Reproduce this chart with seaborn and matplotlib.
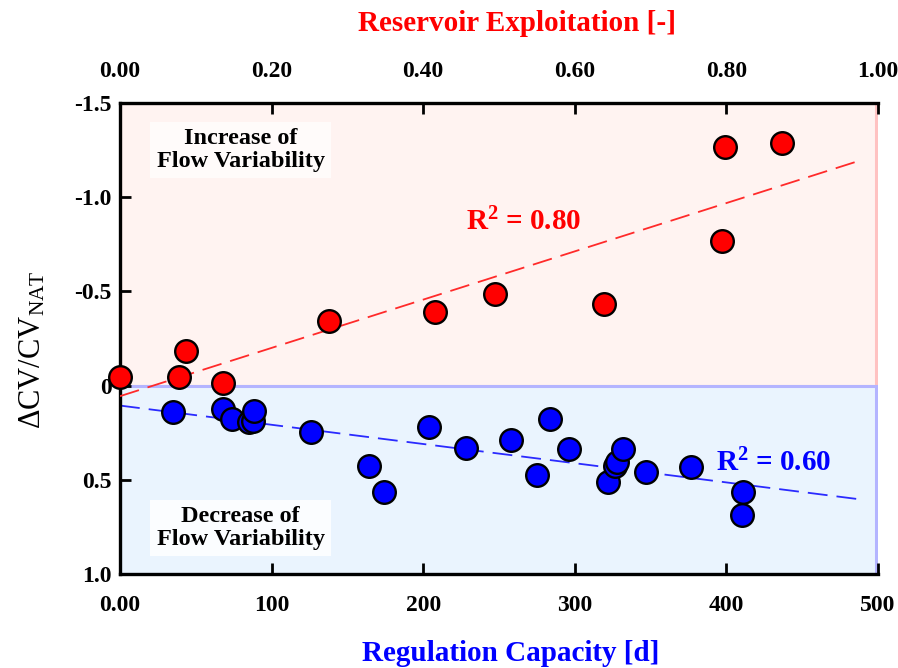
import numpy as np
import pandas as pd
import matplotlib
matplotlib.use("Agg")
import matplotlib.pyplot as plt
import seaborn as sns

# Reservoir exploitation (top axis) vs change in coefficient of variation
red_expl = [0.000, 0.078, 0.087, 0.136, 0.276, 0.416, 0.495, 0.639, 0.794, 0.798, 0.874]
red_dcv = [-0.047, -0.047, -0.184, -0.012, -0.345, -0.392, -0.485, -0.433, -0.768, -1.268, -1.286]

# Regulation capacity (bottom axis) vs change in coefficient of variation
blue_cap = [35.2, 67.7, 73.7, 85.3, 87.9, 88.4, 125.8, 164.4, 173.9, 203.6, 228.4, 257.7,
            274.9, 283.6, 296.4, 321.7, 326.5, 327.6, 332.0, 347.0, 376.8, 410.1, 411.1]
blue_dcv = [0.139, 0.124, 0.179, 0.192, 0.186, 0.133, 0.245, 0.425, 0.566, 0.218, 0.333, 0.290,
            0.475, 0.179, 0.335, 0.513, 0.427, 0.404, 0.335, 0.459, 0.434, 0.688, 0.563]

red_r2_label = "0.80"
blue_r2_label = "0.60"

bottom_ticks = [0, 100, 200, 300, 400, 500]
bottom_ticklabels = ["0.00", "100", "200", "300", "400", "500"]
top_ticks = [0.0, 0.2, 0.4, 0.6, 0.8, 1.0]
top_ticklabels = ["0.00", "0.20", "0.40", "0.60", "0.80", "1.00"]
y_ticks = [-1.5, -1.0, -0.5, 0.0, 0.5, 1.0]
y_ticklabels = ["-1.5", "-1.0", "-0.5", "0", "0.5", "1.0"]

sns.set_theme(style="white")
plt.rcParams["font.family"] = ["Liberation Serif", "DejaVu Serif"]
plt.rcParams["mathtext.fontset"] = "custom"
plt.rcParams["mathtext.rm"] = "Liberation Serif"
plt.rcParams["mathtext.bf"] = "Liberation Serif:bold"
plt.rcParams["mathtext.it"] = "Liberation Serif:italic"

RED = "#ff0000"
BLUE = "#0000ff"
TICK_FS = 17

fig = plt.figure(figsize=(8.98, 6.68), dpi=100)
ax = fig.add_axes([120 / 898, 1 - 574 / 668, 758 / 898, 471 / 668])
ax.set_xlim(0, 500)
ax.set_ylim(1.0, -1.5)

# shaded regions: increase (upper) and decrease (lower) of variability
ax.axhspan(-1.5, 0.0, xmin=0, xmax=0.997, facecolor="#fff3f1", edgecolor="#ffc2c2",
           linewidth=2.2, zorder=0)
ax.axhspan(0.0, 1.0, xmin=0, xmax=0.997, facecolor="#eaf4fe", edgecolor="#b4b4ff",
           linewidth=2.2, zorder=0)

blue_df = pd.DataFrame({"cap": blue_cap, "dcv": blue_dcv})
red_df = pd.DataFrame({"expl": red_expl, "dcv": red_dcv})

# linear fit for the regulation capacity series
bfit = np.polyfit(blue_df["cap"], blue_df["dcv"], 1)
bx = np.linspace(0, 491, 50)
sns.lineplot(x=bx, y=np.polyval(bfit, bx), ax=ax, color="#2a2aff", linewidth=1.3,
             linestyle=(0, (11, 5)), zorder=2)
sns.scatterplot(data=blue_df, x="cap", y="dcv", ax=ax, s=265, color=BLUE,
                edgecolor="black", linewidth=1.7, zorder=3, legend=False)

box_kw = dict(ha="center", va="center", fontsize=17.5, fontweight="bold",
              color="black", linespacing=1.12)
ax.text(79.5, -1.25, "Increase of\nFlow Variability",
        bbox=dict(boxstyle="square,pad=0.25", facecolor="#fffbfa", edgecolor="none"),
        **box_kw)
ax.text(79.5, 0.755, "Decrease of\nFlow Variability",
        bbox=dict(boxstyle="square,pad=0.25", facecolor="#fbfdff", edgecolor="none"),
        **box_kw)
ax.text(431, 0.41, r"R$^{\mathbf{2}}$ = " + blue_r2_label, ha="center", va="center",
        fontsize=21, fontweight="bold", color=BLUE)

ax.set_xticks(bottom_ticks)
ax.set_xticklabels(bottom_ticklabels)
ax.set_yticks(y_ticks)
ax.set_yticklabels(y_ticklabels)
ax.tick_params(axis="x", which="both", direction="in", length=8, width=2, pad=15,
               labelsize=TICK_FS, top=False, bottom=True, colors="black")
ax.tick_params(axis="y", which="both", direction="in", length=8, width=2, pad=6,
               labelsize=TICK_FS, left=True, right=False, colors="black")
for lab in ax.get_xticklabels() + ax.get_yticklabels():
    lab.set_fontweight("bold")

ax.set_xlabel("Regulation Capacity [d]", fontsize=21, fontweight="bold", color=BLUE)
ax.xaxis.set_label_coords(0.516, -0.14)
ax.set_ylabel(r"$\Delta$CV/CV$_{\mathrm{NAT}}$", fontsize=22, color="black")
ax.yaxis.set_label_coords(-0.096, 0.476)

for side in ["right", "top"]:
    ax.spines[side].set_visible(False)
for side in ["left", "bottom"]:
    ax.spines[side].set_color("black")
    ax.spines[side].set_linewidth(2.4)

# top axis: reservoir exploitation
ax2 = ax.twiny()
ax2.set_xlim(0, 1)
rfit = np.polyfit(red_df["expl"], red_df["dcv"], 1)
rx = np.linspace(0, 0.98, 50)
sns.lineplot(x=rx, y=np.polyval(rfit, rx), ax=ax2, color="#ff2a2a", linewidth=1.3,
             linestyle=(0, (11, 5)), zorder=2)
sns.scatterplot(data=red_df, x="expl", y="dcv", ax=ax2, s=265, color=RED,
                edgecolor="black", linewidth=1.7, zorder=3, legend=False, clip_on=False)
ax2.text(0.532, -0.868, r"R$^{\mathbf{2}}$ = " + red_r2_label, ha="center", va="center",
         fontsize=21, fontweight="bold", color=RED)

ax2.set_xticks(top_ticks)
ax2.set_xticklabels(top_ticklabels)
ax2.tick_params(axis="x", which="both", direction="in", length=8, width=2, pad=15,
                labelsize=TICK_FS, top=True, bottom=False, colors="black")
for lab in ax2.get_xticklabels():
    lab.set_fontweight("bold")
ax2.set_xlabel("Reservoir Exploitation [-]", fontsize=21, fontweight="bold", color=RED)
ax2.xaxis.set_label_coords(0.524, 1.152)
for side in ["left", "right", "bottom"]:
    ax2.spines[side].set_visible(False)
ax2.spines["top"].set_color("black")
ax2.spines["top"].set_linewidth(2.4)
ax2.set_ylim(1.0, -1.5)
ax2.set_ylabel("")

fig.savefig("out.png", dpi=100)
